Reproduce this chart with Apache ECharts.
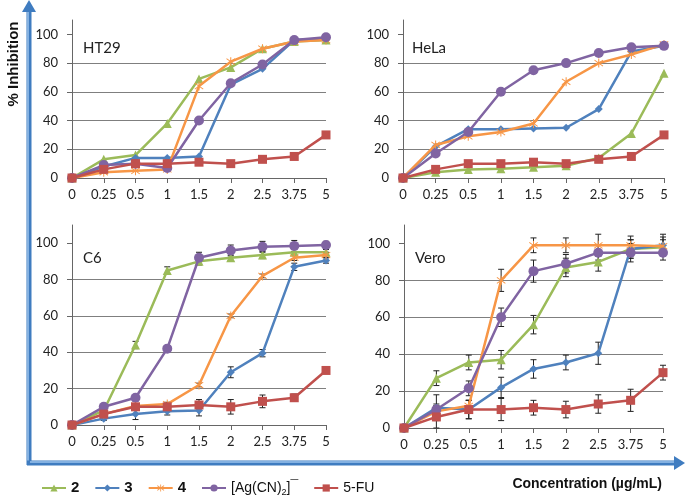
<!DOCTYPE html>
<html><head><meta charset="utf-8">
<script src="https://cdn.jsdelivr.net/npm/echarts@6/dist/echarts.min.js"></script>
<style>html,body{margin:0;padding:0;background:#fff}#c{width:685px;height:497px}</style>
</head><body><div id="c"></div>
<script>
// ---- data ----
const categories = ['0','0.25','0.5','1','1.5','2','2.5','3.75','5'];
const seriesNames = ['2','3','4','[Ag(CN)2]-','5-FU'];
const yTicks = [0,20,40,60,80,100];
const panelNames = ['HT29','HeLa','C6','Vero'];

// HT29
const ht29_2  = [0,13,16,38,69,77,90,95,96];
const ht29_3  = [0,8,14,14,15,65,76,96,97];
const ht29_4  = [0,4,5,6,64,81,90,95,96];
const ht29_ag = [0,9,10,7,40,66,79,96,98];
const ht29_fu = [0,6,10,10,11,10,13,15,30];
// HeLa
const hela_2  = [0,4,6,6.5,7.5,8.5,14,31,73];
const hela_3  = [0,22,34,34,34.5,35,48,88,92];
const hela_4  = [0,23,29,32,38,67,80,86,93];
const hela_ag = [0,17,32,60,75,80,87,91,92];
const hela_fu = [0,6,10,10,11,10,13,15,30];
// C6
const c6_2  = [0,8,44,85,90,92,93.5,95,95];
const c6_3  = [0,3.5,6,7.5,8,29,39.5,87,90.5];
const c6_4  = [0,6,10.5,11.5,22,60,82,92,93.5];
const c6_ag = [0,10,15,42,92,96,98,98.5,99];
const c6_fu = [0,6,10,10,11,10,13,15,30];
// Vero
const vero_2  = [0,27,35.5,37,56,87,90,97,98];
const vero_3  = [0,11,10,22,32,35.5,40.5,97,99];
const vero_4  = [0,9,12,80,99,99,99,99,98.5];
const vero_ag = [0,10,21.5,60,85,89,95,95,95];
const vero_fu = [0,6,10,10,11,10,13,15,30];
// error bars (± values)
const c6_err_2  = [0,1,2,2,2,1.5,2,1.5,1.5];
const c6_err_3  = [0,1,3,2,3,3,2,2,1.5];
const c6_err_4  = [0,1,1,1,1,1,1,1.5,1.5];
const c6_err_ag = [0,1,1,1,3,3,3,3,2];
const c6_err_fu = [0,1,1,2,3,4,3.5,2,1];
const vero_err_2  = [0,4,4,5,5,5,5,5,4];
const vero_err_3  = [0,7,5,5.5,5,4,6,5,6];
const vero_err_4  = [0,3,3,6,4,4,6,5,5];
const vero_err_ag = [0,3,4,5,6,5,4,5,4];
const vero_err_fu = [0,6,5,6,4,4.5,5,6,4];

const panels = [
  {name:'HT29', vals:[ht29_2,ht29_3,ht29_4,ht29_ag,ht29_fu], errs:null},
  {name:'HeLa', vals:[hela_2,hela_3,hela_4,hela_ag,hela_fu], errs:null},
  {name:'C6',   vals:[c6_2,c6_3,c6_4,c6_ag,c6_fu], errs:[c6_err_2,c6_err_3,c6_err_4,c6_err_ag,c6_err_fu]},
  {name:'Vero', vals:[vero_2,vero_3,vero_4,vero_ag,vero_fu], errs:[vero_err_2,vero_err_3,vero_err_4,vero_err_ag,vero_err_fu]}
];

// ---- style ----
const colors = ['#9bbb59','#4f81bd','#f79646','#8064a2','#c0504d'];
const star = 'path://M9,0h2v20h-2z M1.3,4.2l1,-1.7l16.4,13.3l-1,1.7z M17.7,2.5l1,1.7l-16.4,13.3l-1,-1.7z';
const symbols = ['triangle','diamond',star,'circle','rect'];
const symSizes = [9,8,9,10,9];
const grids = [
  {left:72, right:359, top:20, bottom:319},
  {left:403, right:21, top:20, bottom:319},
  {left:72, right:359, top:225, bottom:72},
  {left:404, right:22, top:225, bottom:69}
];
const tickFont = 'Lato';

const xAxes = [], yAxes = [], series = [];
panels.forEach((p, gi) => {
  xAxes.push({
    type:'category', gridIndex:gi, data:categories, boundaryGap:false,
    axisLine:{show:true, lineStyle:{color:'#666', width:1}},
    axisTick:{show:true, alignWithLabel:true, inside:false, length:5, lineStyle:{color:'#666'}},
    axisLabel:{color:'#222', fontSize:13, fontFamily:tickFont, margin:10, interval:0},
    splitLine:{show:false}
  });
  yAxes.push({
    type:'value', gridIndex:gi, min:0, max:110, interval:20,
    axisLine:{show:true, lineStyle:{color:'#666', width:1}},
    axisTick:{show:true, inside:false, length:5, lineStyle:{color:'#666'}, customValues:yTicks},
    axisLabel:{color:'#222', fontSize:13, fontFamily:tickFont, margin:14, customValues:yTicks},
    splitLine:{show:true, showMinLine:false, showMaxLine:false, lineStyle:{color:'#7f7f7f', width:1}}
  });
  p.vals.forEach((v, si) => {
    series.push({
      type:'line', name:seriesNames[si], xAxisIndex:gi, yAxisIndex:gi,
      data:v, symbol:symbols[si], symbolSize:symSizes[si], showSymbol:true,
      lineStyle:{color:colors[si], width:2.5}, itemStyle:{color:colors[si]},
      z:2+si, animation:false
    });
    if (p.errs) {
      const ed = v.map((y,i)=>[i,y,p.errs[si][i]]);
      series.push({
        type:'custom', xAxisIndex:gi, yAxisIndex:gi, data:ed, z:1, animation:false,
        encode:{x:0,y:1}, silent:true,
        renderItem:(params, api) => {
          const x = api.value(0), y = api.value(1), e = api.value(2);
          if (!e) return null;
          const top = api.coord([x, y+e]), bot = api.coord([x, y-e]);
          const st = {stroke:'#222', lineWidth:1};
          return {type:'group', children:[
            {type:'line', shape:{x1:top[0],y1:top[1],x2:bot[0],y2:bot[1]}, style:st},
            {type:'line', shape:{x1:top[0]-3,y1:top[1],x2:top[0]+3,y2:top[1]}, style:st},
            {type:'line', shape:{x1:bot[0]-3,y1:bot[1],x2:bot[0]+3,y2:bot[1]}, style:st}
          ]};
        }
      });
    }
  });
});

const frameBlue = '#3f7cc0', frameLight = '#9cc3ec';
const graphic = [
  {type:'line', shape:{x1:29,y1:10,x2:29,y2:465}, style:{stroke:frameBlue, lineWidth:5}},
  {type:'line', shape:{x1:28,y1:10,x2:28,y2:462}, style:{stroke:frameLight, lineWidth:1.5}},
  {type:'polygon', shape:{points:[[22,12],[36,12],[29,0]]}, style:{fill:frameBlue}},
  {type:'line', shape:{x1:27,y1:463,x2:676,y2:463}, style:{stroke:frameBlue, lineWidth:5}},
  {type:'line', shape:{x1:30,y1:462,x2:676,y2:462}, style:{stroke:frameLight, lineWidth:1.5}},
  {type:'polygon', shape:{points:[[674,456],[674,470],[685,463]]}, style:{fill:frameBlue}},
  {type:'text', x:14, y:64, rotation:Math.PI/2, style:{text:'% Inhibition', font:'bold 15px "Liberation Sans"', fill:'#111', align:'center', verticalAlign:'middle'}},
  {type:'text', x:662, y:484, style:{text:'Concentration (µg/mL)', font:'bold 14px "Liberation Sans"', fill:'#111', align:'right', verticalAlign:'middle'}},
  {type:'text', x:83, y:48, style:{text:panelNames[0], font:'15px Lato', fill:'#222', verticalAlign:'middle'}},
  {type:'text', x:412, y:48, style:{text:panelNames[1], font:'15px Lato', fill:'#222', verticalAlign:'middle'}},
  {type:'text', x:83, y:258, style:{text:panelNames[2], font:'15px Lato', fill:'#222', verticalAlign:'middle'}},
  {type:'text', x:415, y:258, style:{text:panelNames[3], font:'15px Lato', fill:'#222', verticalAlign:'middle'}}
];

const chart = echarts.init(document.getElementById('c'), null, {renderer:'canvas'});
chart.setOption({
  animation:false,
  backgroundColor:'#fff',
  grid:grids, xAxis:xAxes, yAxis:yAxes, series:series, graphic:graphic,
  legend:{
    data:seriesNames, left:36, top:474, itemWidth:24, itemHeight:9, itemGap:15,
    formatter: n => n==='[Ag(CN)2]-' ? '{n|[Ag(CN)}{sub|2}{n|]}{sup|¯}' : (n==='5-FU' ? '{n|5-FU}' : '{b|'+n+'}'),
    textStyle:{
      rich:{
        b:{fontWeight:'bold', fontSize:15, fontFamily:'Liberation Sans', color:'#111', lineHeight:18},
        n:{fontSize:14, fontFamily:'Liberation Sans', color:'#111', lineHeight:18},
        sub:{fontSize:9, fontFamily:'Liberation Sans', color:'#111', lineHeight:10, verticalAlign:'bottom'},
        sup:{fontSize:14, fontFamily:'Liberation Sans', color:'#111', lineHeight:14, verticalAlign:'top', fontWeight:'bold'}
      }
    }
  }
});
</script></body></html>
